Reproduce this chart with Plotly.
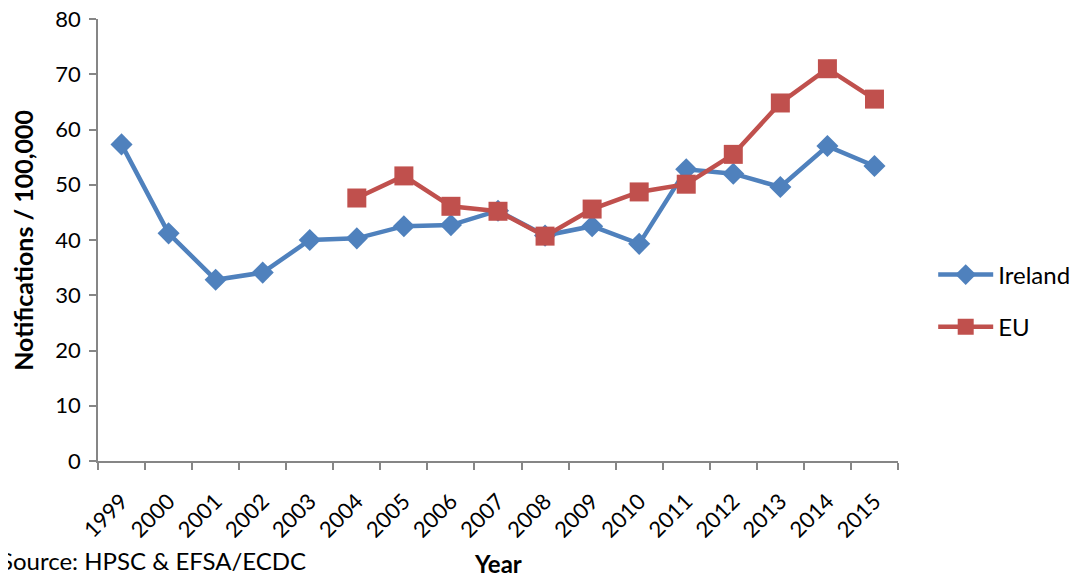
import plotly.graph_objects as go

years = [str(y) for y in range(1999, 2016)]
ireland = [57.3, 41.2, 32.8, 34.1, 40.0, 40.3, 42.5, 42.7, 45.3, 40.8, 42.5, 39.3, 52.8, 52.0, 49.6, 57.0, 53.4]
eu_years = [str(y) for y in range(2004, 2016)]
eu = [47.6, 51.6, 46.1, 45.2, 40.7, 45.6, 48.7, 50.1, 55.5, 64.8, 71.0, 65.5]

y_ticks = list(range(0, 81, 10))

FONT = "Lato, Carlito, Calibri, sans-serif"
BLUE = "#4F81BD"
RED = "#C0504D"
AXIS = "#868686"

fig = go.Figure()
fig.add_trace(go.Scatter(
    x=years, y=ireland, name="Ireland", mode="lines+markers",
    line=dict(color=BLUE, width=4.5),
    marker=dict(symbol="diamond", size=17, color=BLUE),
    legendgroup="a",
))
fig.add_trace(go.Scatter(
    x=eu_years, y=eu, name="EU", mode="lines+markers",
    line=dict(color=RED, width=4.5),
    marker=dict(symbol="square", size=19, color=RED),
    legendgroup="b",
))

fig.update_layout(
    width=1070, height=571,
    margin=dict(l=90, r=180, t=11, b=118, autoexpand=False),
    paper_bgcolor="white", plot_bgcolor="white",
    font=dict(family=FONT, size=22, color="black"),
    showlegend=True,
    legend=dict(x=1.044, y=0.362, xanchor="left", yanchor="middle",
                font=dict(size=24), tracegroupgap=18, itemwidth=55,
                traceorder="grouped", bgcolor="rgba(0,0,0,0)"),
    xaxis=dict(type="category", categoryorder="array", categoryarray=years,
               tickson="boundaries", ticks="outside", ticklen=7, tickcolor=AXIS,
               tickwidth=1.5, showline=True, linecolor=AXIS, linewidth=1.5,
               showgrid=False, tickangle=-45, tickfont=dict(size=22),
               ticklabelstandoff=17,
               range=[-0.5, len(years) - 0.5], automargin=False),
    yaxis=dict(range=[0, 80], tickvals=y_ticks, ticks="outside", ticklen=7,
               tickcolor=AXIS, tickwidth=1.5, showline=True, linecolor=AXIS,
               linewidth=1.5, showgrid=False, zeroline=False,
               tickfont=dict(size=22), ticklabelstandoff=4, automargin=False,
               ticklabeloverflow="allow"),
    annotations=[
        dict(text="<b>Notifications / 100,000</b>", xref="paper", yref="paper",
             x=-0.094, y=0.5, xanchor="center", yanchor="middle", textangle=-90,
             showarrow=False, font=dict(size=25)),
        dict(text="<b>Year</b>", xref="paper", yref="paper", x=0.5, y=-0.232,
             xanchor="center", yanchor="middle", showarrow=False, font=dict(size=24)),
        dict(text="Source: HPSC &amp; EFSA/ECDC", xref="paper", yref="paper",
             x=-0.125, y=-0.225, xanchor="left", yanchor="middle", showarrow=False,
             font=dict(size=24)),
    ],
)

fig.write_html("out.html")
